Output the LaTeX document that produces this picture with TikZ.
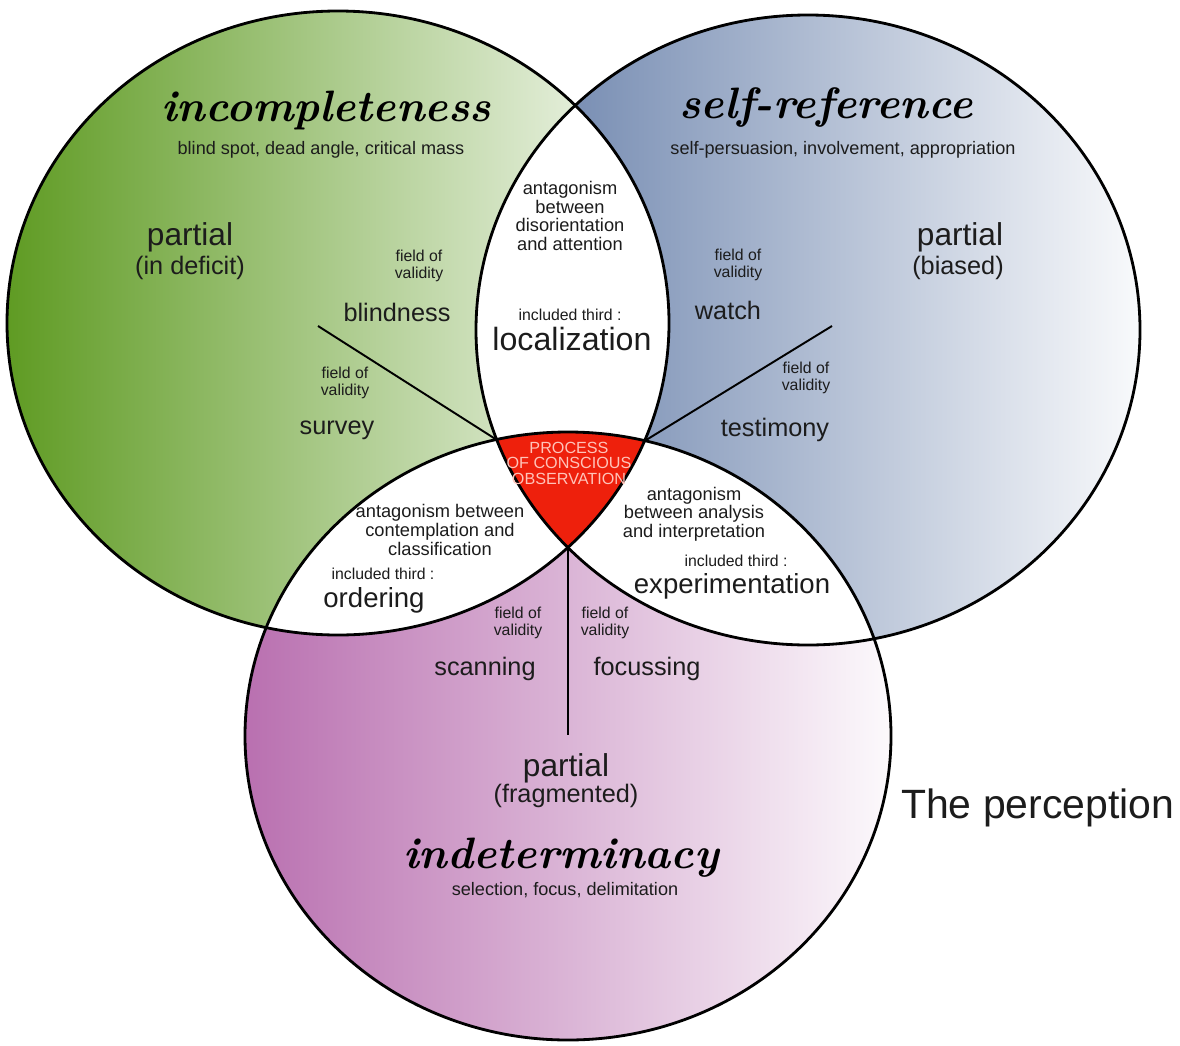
\documentclass[tikz,border=0pt]{standalone}
\usepackage{fontspec}
\setsansfont{Liberation Sans}
\definecolor{incgreen}{RGB}{95,155,35}
\definecolor{srefblue}{RGB}{100,125,168}
\definecolor{indpurple}{RGB}{185,112,176}
\definecolor{obsred}{RGB}{238,32,12}
\definecolor{obstext}{RGB}{255,195,185}
\definecolor{inkgray}{RGB}{28,28,28}

% the three fields of perception
\newcommand{\greenring}{(338,-323) ellipse [x radius=331, y radius=312]}
\newcommand{\bluering}{(808,-330) ellipse [x radius=332, y radius=315]}
\newcommand{\purplering}{(568,-736) ellipse [x radius=323, y radius=304]}

\begin{document}
\begin{tikzpicture}[x=0.02cm, y=0.02cm, font=\sffamily, text=inkgray,
  ringline/.style={draw=black, line width=1.6pt},
  spoke/.style={draw=black, line width=1.1pt},
  headline/.style={font=\rmfamily\bfseries\itshape\fontsize{25}{30}\selectfont, text=black},
  subtxt/.style={font=\sffamily\fontsize{10.3}{12}\selectfont},
  parttxt/.style={font=\sffamily\fontsize{18}{20}\selectfont},
  modetxt/.style={font=\sffamily\fontsize{14.4}{16}\selectfont},
  fieldtxt/.style={font=\sffamily\fontsize{9}{9.3}\selectfont, align=center},
  lenstxt/.style={font=\sffamily\fontsize{10.4}{10.6}\selectfont, align=center},
  thirdtxt/.style={font=\sffamily\fontsize{15.7}{18}\selectfont}]
  \useasboundingbox (0,0) rectangle (1180,-1045);

  % Shaded circles
  \shade[left color=incgreen, right color=incgreen!4] \greenring;
  \shade[left color=srefblue, right color=srefblue!4] \bluering;
  \shade[left color=indpurple, right color=indpurple!4] \purplering;

  % White lenses and red core
  \begin{scope} \clip \greenring; \fill[white] \bluering; \end{scope}
  \begin{scope} \clip \greenring; \fill[white] \purplering; \end{scope}
  \begin{scope} \clip \bluering; \fill[white] \purplering; \end{scope}
  \begin{scope} \clip \greenring; \clip \bluering; \fill[obsred] \purplering; \end{scope}

  \draw[ringline] \greenring;
  \draw[ringline] \bluering;
  \draw[ringline] \purplering;

  % Spokes
  \coordinate (obsTL) at (497,-440);
  \coordinate (obsTR) at (644.5,-441);
  \coordinate (obsB) at (568,-547.5);
  \coordinate (blindEnd) at (318,-326);
  \coordinate (watchEnd) at (832,-326);
  \coordinate (scanEnd) at (568,-735);
  \draw[spoke] (blindEnd) -- (obsTL);
  \draw[spoke] (watchEnd) -- (obsTR);
  \draw[spoke] (obsB) -- (scanEnd);

  % Incompleteness
  \node[headline] (incT) at (326,-110) {incompleteness};
  \node[subtxt] (incS) at (321,-150) {blind spot, dead angle, critical mass};
  \node[parttxt] (incP) at (190,-237) {partial};
  \node[modetxt] (incQ) at (190,-268) {(in deficit)};
  \node[fieldtxt] (incF1) at (419,-266) {field of\\validity};
  \node[modetxt] (blind) at (397,-312) {blindness};
  \node[fieldtxt] (incF2) at (345,-383) {field of\\validity};
  \node[modetxt] (survey) at (337,-430) {survey};

  % Self-reference
  \node[headline] (srefT) at (826,-108) {self-reference};
  \node[subtxt] (srefS) at (843,-150) {self-persuasion, involvement, appropriation};
  \node[parttxt] (srefP) at (960,-237) {partial};
  \node[modetxt] (srefQ) at (958,-268) {(biased)};
  \node[fieldtxt] (srefF1) at (738,-265) {field of\\validity};
  \node[modetxt] (watch) at (728,-310) {watch};
  \node[fieldtxt] (srefF2) at (806,-378) {field of\\validity};
  \node[modetxt] (testimony) at (775,-430) {testimony};

  % Lens: localization
  \node[lenstxt] (locA) at (570,-216) {antagonism\\between\\disorientation\\and attention};
  \node[fieldtxt, inner sep=1pt] (locI) at (570,-315) {included third :};
  \node[font=\sffamily\fontsize{18.3}{20}\selectfont, inner sep=1pt] (loc) at (572,-339) {localization};

  % Core
  \node[font=\sffamily\fontsize{9.2}{8.8}\selectfont, align=center, text=obstext] (obs) at (569,-463) {PROCESS\\OF CONSCIOUS\\OBSERVATION};

  % Lens: ordering
  \node[lenstxt] (ordA) at (440,-530) {antagonism between\\contemplation and\\classification};
  \node[fieldtxt] (ordI) at (383,-574) {included third :};
  \node[thirdtxt] (ord) at (374,-600) {ordering};

  % Lens: experimentation
  \node[lenstxt] (expA) at (694,-514) {antagonism\\between analysis\\and interpretation};
  \node[fieldtxt] (expI) at (736,-561) {included third :};
  \node[thirdtxt] (exper) at (732,-586) {experimentation};

  % Indeterminacy
  \node[fieldtxt] (indF1) at (518,-623) {field of\\validity};
  \node[fieldtxt] (indF2) at (605,-623) {field of\\validity};
  \node[modetxt] (scan) at (485,-669) {scanning};
  \node[modetxt] (focus) at (647,-669) {focussing};
  \node[parttxt, inner sep=1pt] (indP) at (566,-768) {partial};
  \node[modetxt, inner sep=1pt] (indQ) at (566,-796) {(fragmented)};
  \node[headline] (indT) at (561,-858) {indeterminacy};
  \node[subtxt] (indS) at (565,-890) {selection, focus, delimitation};

  \node[anchor=west, font=\sffamily\fontsize{23.3}{26}\selectfont] (percep) at (895,-808) {The perception};
\end{tikzpicture}
\end{document}
